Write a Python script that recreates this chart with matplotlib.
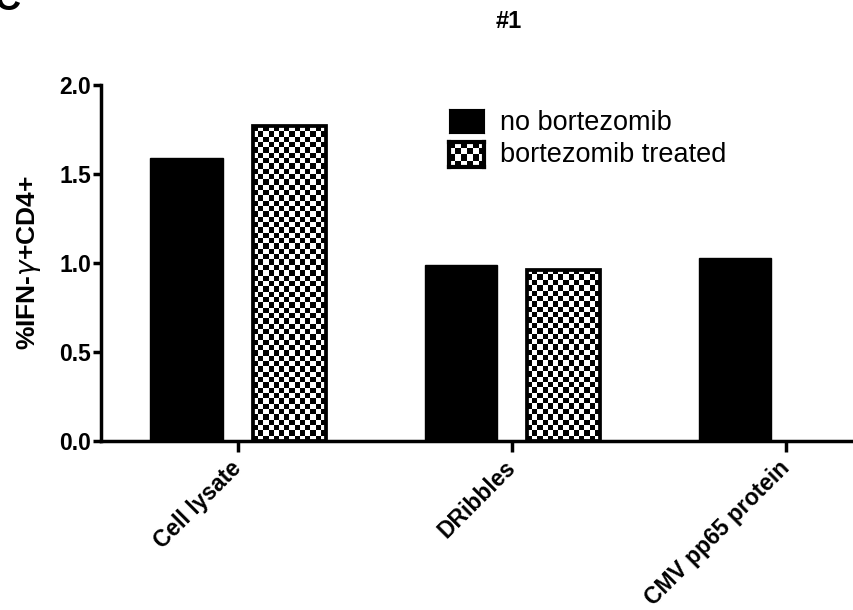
import numpy as np
import matplotlib
matplotlib.use("Agg")
import matplotlib.pyplot as plt

plt.rcParams['font.family'] = ['Liberation Sans', 'DejaVu Sans']

categories = ["Cell lysate", "DRibbles", "CMV pp65 protein"]
no_bortezomib = [1.592, 0.989, 1.026]
bortezomib_treated = [1.767, 0.963, np.nan]  # no treated bar for CMV pp65
series_names = ["no bortezomib", "bortezomib treated"]


def checker(nx, ny):
    ix, iy = np.meshgrid(np.arange(nx), np.arange(ny))
    return (ix + iy) % 2


fig = plt.figure(figsize=(8.54, 6.10), dpi=100)
# axis runs past the right edge of the figure (cropped like the original)
ax = fig.add_axes([101 / 854, 1 - 441 / 610, 822.5 / 854, (441 - 85) / 610])

x = np.arange(len(categories))
w = 0.265
ax.bar(x - 0.187, no_bortezomib, w, color='black', edgecolor='black', linewidth=1, zorder=3)
bars = ax.bar(x + 0.187, bortezomib_treated, w, facecolor='none', edgecolor='black',
              linewidth=2.7, zorder=4)

# checkerboard fill, clipped to each bar
for b in bars:
    h = b.get_height()
    if not np.isfinite(h) or h <= 0:
        continue
    nx = int(round(b.get_width() / 0.0193))
    ny = int(round(h / 0.0298))
    im = ax.imshow(checker(nx, ny), cmap='gray', interpolation='nearest',
                   extent=[b.get_x(), b.get_x() + b.get_width(), 0, h],
                   aspect='auto', zorder=2, origin='lower')
    im.set_clip_path(b)

ax.set_xlim(-0.5, 2.5)
ax.set_ylim(0, 2.0)
ax.set_yticks([0, 0.5, 1.0, 1.5, 2.0])
ax.set_yticklabels(["0.0", "0.5", "1.0", "1.5", "2.0"])
ax.set_xticks(x)
ax.set_xticklabels(categories, rotation=45, ha='right', va='center', rotation_mode='anchor',
                   fontweight='bold', fontsize=16.5)
for lab in ax.get_yticklabels():
    lab.set_fontweight('bold')
    lab.set_fontsize(16.5)

for s in ['top', 'right']:
    ax.spines[s].set_visible(False)
for s in ['left', 'bottom']:
    ax.spines[s].set_linewidth(2.5)
ax.tick_params(axis='y', length=6, width=2.5, pad=1)
ax.tick_params(axis='x', length=8, width=2.5, pad=9)

ax.set_ylabel("%IFN-$\\gamma$+CD4+", fontsize=19, fontweight='bold', labelpad=12)

fig.text(509 / 854, 1 - 21 / 610, "#1", fontsize=17, fontweight='bold', ha='center', va='center')
fig.text(-0.006, 1.0, "C", fontsize=26, fontweight='bold', ha='left', va='center')

# legend swatches
lx, lw = 449 / 854, 35 / 854
sw1 = fig.add_axes([lx, 1 - 133 / 610, lw, 24 / 610])
sw1.set_facecolor('black')
sw1.set_xticks([])
sw1.set_yticks([])
sw2 = fig.add_axes([lx, 1 - 167 / 610, lw, 25 / 610])
sw2.imshow(checker(6, 4), cmap='gray', interpolation='nearest', aspect='auto')
sw2.set_xticks([])
sw2.set_yticks([])
for sp in sw2.spines.values():
    sp.set_linewidth(3)
fig.text(500 / 854, 1 - 123 / 610, series_names[0], fontsize=19.5, va='center')
fig.text(500 / 854, 1 - 155 / 610, series_names[1], fontsize=19.5, va='center')

fig.savefig("out.png", dpi=100)
